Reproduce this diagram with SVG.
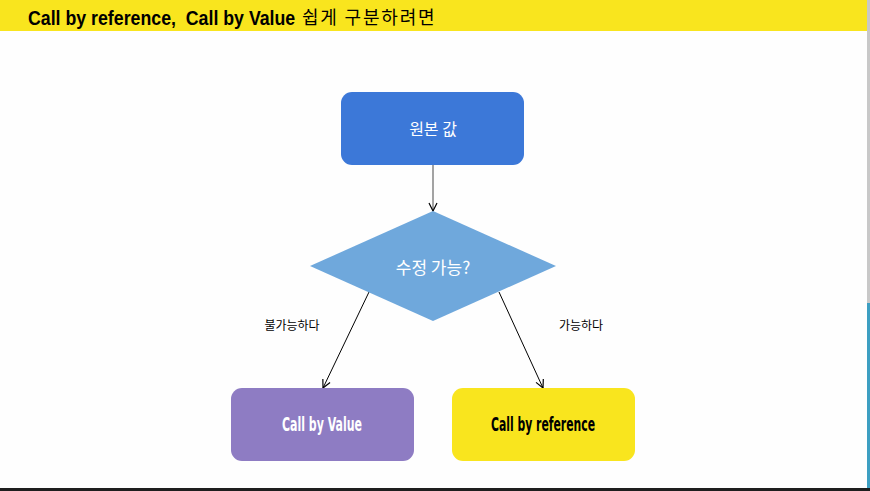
<svg xmlns="http://www.w3.org/2000/svg" width="870" height="491" viewBox="0 0 870 491">
<style>
.cond{font-family:"DejaVu Sans Condensed","DejaVu Sans",sans-serif;font-stretch:condensed;font-weight:bold}
.hd{font-family:"Liberation Sans",Arial,sans-serif;font-weight:bold}
.ko{font-family:"Noto Sans CJK KR","Noto Sans",sans-serif}
.lbl{font-family:"Noto Sans CJK KR",sans-serif;font-size:12px;fill:#000;text-anchor:middle}
.conn{stroke:#000;stroke-width:1;fill:none}
</style>
<defs>
<marker id="ah" markerWidth="10" markerHeight="10" refX="9" refY="5" orient="auto" markerUnits="userSpaceOnUse">
<path d="M1,1 L9,5 L1,9" fill="none" stroke="#000" stroke-width="1.2"/>
</marker>
</defs>
<rect x="0" y="0" width="870" height="491" fill="#fefefe"/>
<rect x="0" y="0" width="867" height="31" fill="#f9e51e"/>
<rect x="867" y="0" width="3" height="303" fill="#c8c8c8"/>
<rect x="867" y="303" width="3" height="185" fill="#3d9fc2"/>
<rect x="0" y="488" width="870" height="3" fill="#1e1e1e"/>
<g id="title">
<text transform="translate(28,25) scale(0.845,1)" x="0" y="0" class="hd" font-size="21" fill="#000" xml:space="preserve">Call by reference,  Call by Value</text>
<text x="302" y="24" class="ko" font-size="18" letter-spacing="1.8" fill="#000">쉽게 구분하려면</text>
</g>
<g id="connectors">
<line x1="433" y1="165" x2="433" y2="211" stroke="#666" stroke-width="1.2" marker-end="url(#ah)"/>
<line x1="369" y1="292" x2="323" y2="388" class="conn" marker-end="url(#ah)"/>
<line x1="499" y1="292" x2="543" y2="388" class="conn" marker-end="url(#ah)"/>
<text x="292" y="330" class="lbl">불가능하다</text>
<text x="581" y="330" class="lbl">가능하다</text>
</g>
<g id="n-original">
<rect x="341" y="92" width="183" height="73" rx="11" fill="#3c78d8"/>
<text x="433" y="135" class="ko" font-size="16" fill="#fff" text-anchor="middle">원본 값</text>
</g>
<g id="n-decision">
<polygon points="310,266 433,211 556,266 433,321" fill="#6fa8dc"/>
<text x="433" y="274" class="ko" font-size="17" fill="#fff" text-anchor="middle">수정 가능?</text>
</g>
<g id="n-value">
<rect x="231" y="388" width="183" height="73" rx="11" fill="#8e7cc3"/>
<text x="322" y="431" class="cond" font-size="19" fill="#fff" text-anchor="middle" textLength="80" lengthAdjust="spacingAndGlyphs">Call by Value</text>
</g>
<g id="n-reference">
<rect x="452" y="388" width="183" height="73" rx="11" fill="#f9e51e"/>
<text x="543" y="431" class="cond" font-size="19" fill="#000" text-anchor="middle" textLength="104" lengthAdjust="spacingAndGlyphs">Call by reference</text>
</g>
</svg>
